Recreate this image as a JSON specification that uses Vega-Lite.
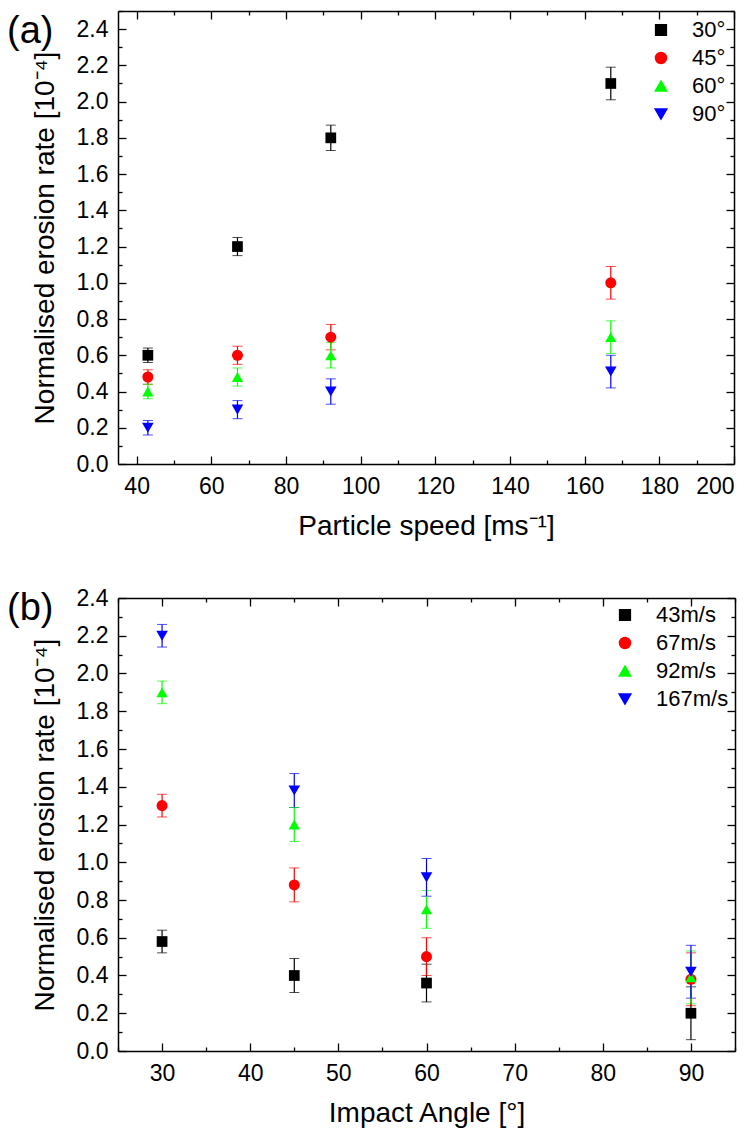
{
  "$schema": "https://vega.github.io/schema/vega-lite/v6.json",
  "padding": {"left": 7, "top": 10, "right": 5, "bottom": 2},
  "background": "white",
  "datasets": {
    "a": [
      {"speed": 43, "angle": "30°", "rate": 0.60, "err": 0.04},
      {"speed": 67, "angle": "30°", "rate": 1.20, "err": 0.05},
      {"speed": 92, "angle": "30°", "rate": 1.80, "err": 0.07},
      {"speed": 167, "angle": "30°", "rate": 2.10, "err": 0.09},
      {"speed": 43, "angle": "45°", "rate": 0.48, "err": 0.04},
      {"speed": 67, "angle": "45°", "rate": 0.60, "err": 0.05},
      {"speed": 92, "angle": "45°", "rate": 0.70, "err": 0.07},
      {"speed": 167, "angle": "45°", "rate": 1.00, "err": 0.09},
      {"speed": 43, "angle": "60°", "rate": 0.40, "err": 0.04},
      {"speed": 67, "angle": "60°", "rate": 0.48, "err": 0.05},
      {"speed": 92, "angle": "60°", "rate": 0.60, "err": 0.07},
      {"speed": 167, "angle": "60°", "rate": 0.70, "err": 0.09},
      {"speed": 43, "angle": "90°", "rate": 0.20, "err": 0.04},
      {"speed": 67, "angle": "90°", "rate": 0.30, "err": 0.05},
      {"speed": 92, "angle": "90°", "rate": 0.40, "err": 0.07},
      {"speed": 167, "angle": "90°", "rate": 0.51, "err": 0.09}
    ],
    "b": [
      {"angle": 30, "speed": "43m/s", "rate": 0.58, "err": 0.06},
      {"angle": 45, "speed": "43m/s", "rate": 0.40, "err": 0.09},
      {"angle": 60, "speed": "43m/s", "rate": 0.36, "err": 0.10},
      {"angle": 90, "speed": "43m/s", "rate": 0.20, "err": 0.14},
      {"angle": 30, "speed": "67m/s", "rate": 1.30, "err": 0.06},
      {"angle": 45, "speed": "67m/s", "rate": 0.88, "err": 0.09},
      {"angle": 60, "speed": "67m/s", "rate": 0.50, "err": 0.10},
      {"angle": 90, "speed": "67m/s", "rate": 0.38, "err": 0.14},
      {"angle": 30, "speed": "92m/s", "rate": 1.90, "err": 0.06},
      {"angle": 45, "speed": "92m/s", "rate": 1.20, "err": 0.09},
      {"angle": 60, "speed": "92m/s", "rate": 0.75, "err": 0.10},
      {"angle": 90, "speed": "92m/s", "rate": 0.39, "err": 0.14},
      {"angle": 30, "speed": "167m/s", "rate": 2.20, "err": 0.06},
      {"angle": 45, "speed": "167m/s", "rate": 1.38, "err": 0.09},
      {"angle": 60, "speed": "167m/s", "rate": 0.92, "err": 0.10},
      {"angle": 90, "speed": "167m/s", "rate": 0.42, "err": 0.14}
    ]
  },
  "config": {
    "font": "Liberation Sans",
    "view": {"stroke": null},
    "axis": {
      "labelFont": "Liberation Sans",
      "titleFont": "Liberation Sans",
      "labelFontSize": 23,
      "titleFontSize": 28,
      "titleFontWeight": "normal",
      "labelColor": "black",
      "titleColor": "black",
      "domainColor": "black",
      "domainWidth": 1.5,
      "tickColor": "black",
      "tickWidth": 1.3,
      "grid": false
    },
    "legend": {
      "labelFont": "Liberation Sans",
      "labelFontSize": 22,
      "labelColor": "black",
      "rowPadding": 6,
      "labelOffset": 20,
      "padding": 2,
      "symbolOpacity": 1
    },
    "point": {"opacity": 1},
    "title": {"font": "Liberation Sans", "fontSize": 38, "fontWeight": "normal", "color": "black"}
  },
  "resolve": {
    "scale": {"color": "independent", "shape": "independent", "size": "independent"},
    "legend": {"color": "independent", "shape": "independent", "size": "independent"}
  },
  "vconcat": [
    {
      "width": 616,
      "height": 453,
      "data": {"name": "a"},
      "title": {"text": "(a)", "anchor": "start", "frame": "bounds", "orient": "top", "offset": -41, "dx": -24},
      "layer": [
        {
          "mark": {"type": "errorbar", "ticks": {"size": 10}, "rule": {"strokeWidth": 1.2}},
          "encoding": {
            "x": {"field": "speed", "type": "quantitative", "scale": {"domain": [35, 200], "nice": false, "zero": false},
              "axis": {"orient": "bottom", "title": "Particle speed [ms⁻¹]", "values": [40,50,60,70,80,90,100,110,120,130,140,150,160,170,180,190,200],
                "labelExpr": "datum.value % 20 == 0 ? datum.label : ''", "tickSize": {"condition": {"test": "datum.value % 20 == 0", "value": -8}, "value": -4}, "labelPadding": 19, "titlePadding": 14}},
            "y": {"field": "rate", "type": "quantitative", "scale": {"domain": [0, 2.5], "nice": false},
              "axis": {"orient": "left", "title": "Normalised erosion rate [10⁻⁴]", "values": [0,0.1,0.2,0.3,0.4,0.5,0.6,0.7,0.8,0.9,1.0,1.1,1.2,1.3,1.4,1.5,1.6,1.7,1.8,1.9,2.0,2.1,2.2,2.3,2.4,2.5],
                "labelExpr": "round(datum.value*10) % 2 == 0 ? format(datum.value, '.1f') : ''", "tickSize": {"condition": {"test": "round(datum.value*10) % 2 == 0", "value": -8}, "value": -4}, "labelPadding": 18, "titlePadding": 17}},
            "yError": {"field": "err"},
            "color": {"field": "angle", "type": "nominal", "scale": {"domain": ["30°","45°","60°","90°"], "range": ["#000000","#ff0000","#00ff00","#0000ff"]}, "legend": {"title": null, "orient": "top-right", "offset": 6}}
          }
        },
        {
          "mark": {"type": "point", "filled": true, "opacity": 1},
          "encoding": {
            "x": {"field": "speed", "type": "quantitative",
              "axis": {"orient": "top", "title": null, "labels": false, "values": [40,50,60,70,80,90,100,110,120,130,140,150,160,170,180,190,200], "tickSize": {"condition": {"test": "datum.value % 20 == 0", "value": -8}, "value": -4}}},
            "y": {"field": "rate", "type": "quantitative",
              "axis": {"orient": "right", "title": null, "labels": false, "values": [0,0.1,0.2,0.3,0.4,0.5,0.6,0.7,0.8,0.9,1.0,1.1,1.2,1.3,1.4,1.5,1.6,1.7,1.8,1.9,2.0,2.1,2.2,2.3,2.4,2.5], "tickSize": {"condition": {"test": "round(datum.value*10) % 2 == 0", "value": -8}, "value": -4}}},
            "color": {"field": "angle", "type": "nominal", "legend": {"title": null, "orient": "top-right", "offset": 6}},
            "shape": {"field": "angle", "type": "nominal", "scale": {"domain": ["30°","45°","60°","90°"], "range": ["square","circle","triangle-up","triangle-down"]}, "legend": {"title": null, "orient": "top-right", "offset": 6}},
            "size": {"field": "angle", "type": "nominal", "scale": {"domain": ["30°","45°","60°","90°"], "range": [115, 135, 250, 250]}, "legend": {"title": null, "orient": "top-right", "offset": 6}}
          }
        }
      ],
      "resolve": {"axis": {"x": "independent", "y": "independent"}}
    },
    {
      "width": 617,
      "height": 453,
      "data": {"name": "b"},
      "title": {"text": "(b)", "anchor": "start", "frame": "bounds", "orient": "top", "offset": -41, "dx": -24},
      "layer": [
        {
          "mark": {"type": "errorbar", "ticks": {"size": 10}, "rule": {"strokeWidth": 1.2}},
          "encoding": {
            "x": {"field": "angle", "type": "quantitative", "scale": {"domain": [25, 95], "nice": false, "zero": false},
              "axis": {"orient": "bottom", "title": "Impact Angle [°]", "values": [25,30,35,40,45,50,55,60,65,70,75,80,85,90,95],
                "labelExpr": "datum.value % 10 == 0 ? datum.label : ''", "tickSize": {"condition": {"test": "datum.value % 10 == 0", "value": -8}, "value": -4}, "labelPadding": 19, "titlePadding": 14}},
            "y": {"field": "rate", "type": "quantitative", "scale": {"domain": [0, 2.4], "nice": false},
              "axis": {"orient": "left", "title": "Normalised erosion rate [10⁻⁴]", "values": [0,0.1,0.2,0.3,0.4,0.5,0.6,0.7,0.8,0.9,1.0,1.1,1.2,1.3,1.4,1.5,1.6,1.7,1.8,1.9,2.0,2.1,2.2,2.3,2.4],
                "labelExpr": "round(datum.value*10) % 2 == 0 ? format(datum.value, '.1f') : ''", "tickSize": {"condition": {"test": "round(datum.value*10) % 2 == 0", "value": -8}, "value": -4}, "labelPadding": 18, "titlePadding": 17}},
            "yError": {"field": "err"},
            "color": {"field": "speed", "type": "nominal", "scale": {"domain": ["43m/s","67m/s","92m/s","167m/s"], "range": ["#000000","#ff0000","#00ff00","#0000ff"]}, "legend": {"title": null, "orient": "top-right", "offset": 4}}
          }
        },
        {
          "mark": {"type": "point", "filled": true, "opacity": 1},
          "encoding": {
            "x": {"field": "angle", "type": "quantitative",
              "axis": {"orient": "top", "title": null, "labels": false, "values": [25,30,35,40,45,50,55,60,65,70,75,80,85,90,95], "tickSize": {"condition": {"test": "datum.value % 10 == 0", "value": -8}, "value": -4}}},
            "y": {"field": "rate", "type": "quantitative",
              "axis": {"orient": "right", "title": null, "labels": false, "values": [0,0.1,0.2,0.3,0.4,0.5,0.6,0.7,0.8,0.9,1.0,1.1,1.2,1.3,1.4,1.5,1.6,1.7,1.8,1.9,2.0,2.1,2.2,2.3,2.4], "tickSize": {"condition": {"test": "round(datum.value*10) % 2 == 0", "value": -8}, "value": -4}}},
            "color": {"field": "speed", "type": "nominal", "legend": {"title": null, "orient": "top-right", "offset": 4}},
            "shape": {"field": "speed", "type": "nominal", "scale": {"domain": ["43m/s","67m/s","92m/s","167m/s"], "range": ["square","circle","triangle-up","triangle-down"]}, "legend": {"title": null, "orient": "top-right", "offset": 4}},
            "size": {"field": "speed", "type": "nominal", "scale": {"domain": ["43m/s","67m/s","92m/s","167m/s"], "range": [115, 135, 250, 250]}, "legend": {"title": null, "orient": "top-right", "offset": 4}}
          }
        }
      ],
      "resolve": {"axis": {"x": "independent", "y": "independent"}}
    }
  ],
  "spacing": 47
}
